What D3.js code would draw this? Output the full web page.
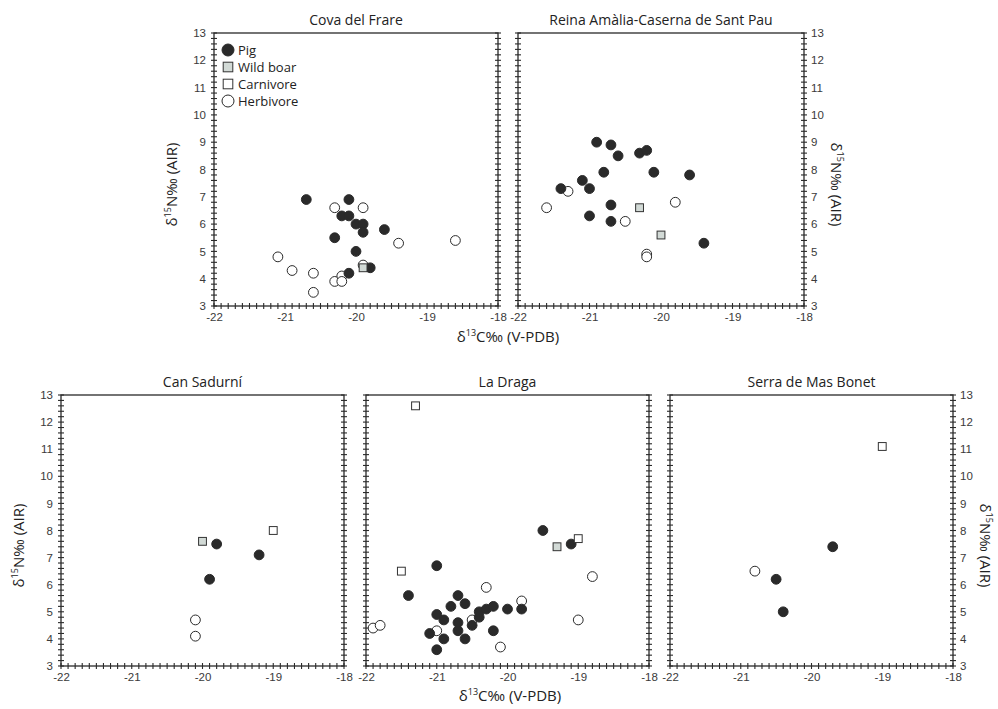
<!DOCTYPE html>
<html>
  <head>
    <meta charset="utf-8">
    <title>d13C / d15N by site</title>
    <script src="https://d3js.org/d3.v7.min.js"></script>
    <style>
      body { margin: 0; background: #fff; }
      svg { display: block; font-family: "Open Sans", sans-serif; }
      .tick text { fill: #3a3a3a; font-size: 11.5px; }
      .title { fill: #222; font-size: 14px; }
      .axlabel { fill: #222; font-size: 15px; }
    </style>
  </head>
  <body>
    <svg width="998" height="709"></svg>
    <script>
      // tick values
      const xTicks = [-22, -21, -20, -19, -18];
      const yTicks = [3, 4, 5, 6, 7, 8, 9, 10, 11, 12, 13];
      const categories = ['Pig', 'Wild boar', 'Carnivore', 'Herbivore'];

      // Cova del Frare  [d13C, d15N]
      const covaPig = [[-20.7,6.9],[-20.1,6.9],[-20.2,6.3],[-20.1,6.3],[-20.0,6.0],[-19.9,6.0],[-19.9,5.7],[-19.6,5.8],[-20.3,5.5],[-20.0,5.0],[-20.1,4.2],[-19.8,4.4]];
      const covaBoar = [[-19.9,4.4]];
      const covaCarn = [];
      const covaHerb = [[-20.3,6.6],[-19.9,6.6],[-19.4,5.3],[-18.6,5.4],[-21.1,4.8],[-20.9,4.3],[-20.6,4.2],[-20.6,3.5],[-20.3,3.9],[-20.2,4.1],[-20.2,3.9],[-19.9,4.5]];

      // Reina Amàlia-Caserna de Sant Pau
      const reinaPig = [[-20.9,9.0],[-20.7,8.9],[-20.6,8.5],[-20.3,8.6],[-20.2,8.7],[-20.8,7.9],[-20.1,7.9],[-19.6,7.8],[-21.1,7.6],[-21.4,7.3],[-21.0,7.3],[-20.7,6.7],[-21.0,6.3],[-20.7,6.1],[-19.4,5.3]];
      const reinaBoar = [[-20.3,6.6],[-20.0,5.6]];
      const reinaCarn = [];
      const reinaHerb = [[-21.6,6.6],[-21.3,7.2],[-20.5,6.1],[-19.8,6.8],[-20.2,4.9],[-20.2,4.8]];

      // Can Sadurní
      const sadurniPig = [[-19.8,7.5],[-19.2,7.1],[-19.9,6.2]];
      const sadurniBoar = [[-20.0,7.6]];
      const sadurniCarn = [[-19.0,8.0]];
      const sadurniHerb = [[-20.1,4.7],[-20.1,4.1]];

      // La Draga
      const dragaPig = [[-19.5,8.0],[-19.1,7.5],[-21.0,6.7],[-21.4,5.6],[-20.7,5.6],[-20.8,5.2],[-20.6,5.3],[-21.0,4.9],[-20.9,4.7],[-20.7,4.6],[-20.7,4.3],[-21.1,4.2],[-20.9,4.0],[-20.6,4.0],[-21.0,3.6],[-20.5,4.5],[-20.4,4.8],[-20.4,5.0],[-20.3,5.1],[-20.2,5.2],[-20.0,5.1],[-19.8,5.1],[-20.2,4.3]];
      const dragaBoar = [[-19.3,7.4]];
      const dragaCarn = [[-21.3,12.6],[-21.5,6.5],[-19.0,7.7]];
      const dragaHerb = [[-20.3,5.9],[-19.8,5.4],[-18.8,6.3],[-19.0,4.7],[-20.1,3.7],[-21.0,4.3],[-20.5,4.7],[-21.9,4.4],[-21.8,4.5]];

      // Serra de Mas Bonet
      const serraPig = [[-19.7,7.4],[-20.5,6.2],[-20.4,5.0]];
      const serraBoar = [];
      const serraCarn = [[-19.0,11.1]];
      const serraHerb = [[-20.8,6.5]];

      const panels = [
        {name: 'Cova del Frare', x0: 214, x1: 498, y0: 33, y1: 306, ylab: 'left', legend: true,
         data: [covaPig, covaBoar, covaCarn, covaHerb]},
        {name: 'Reina Amàlia-Caserna de Sant Pau', x0: 518, x1: 804, y0: 33, y1: 306, ylab: 'right',
         data: [reinaPig, reinaBoar, reinaCarn, reinaHerb]},
        {name: 'Can Sadurní', x0: 61, x1: 344, y0: 395, y1: 666, ylab: 'left',
         data: [sadurniPig, sadurniBoar, sadurniCarn, sadurniHerb]},
        {name: 'La Draga', x0: 366, x1: 649, y0: 395, y1: 666, ylab: null,
         data: [dragaPig, dragaBoar, dragaCarn, dragaHerb]},
        {name: 'Serra de Mas Bonet', x0: 670, x1: 953, y0: 395, y1: 666, ylab: 'right',
         data: [serraPig, serraBoar, serraCarn, serraHerb]}
      ];

      const svg = d3.select('svg');
      const ink = '#2a2a2a';
      const xMinor = d3.range(0, 41).map(i => -22 + i / 10);
      const yMinor = d3.range(0, 51).map(i => 3 + i / 5);
      const fmt = d => String(d);

      // draws one marker of category c at (cx, cy)
      function marker(g, c, cx, cy, r) {
        if (c === 0 || c === 3) {
          g.append('circle').attr('cx', cx).attr('cy', cy).attr('r', r)
            .attr('fill', c === 0 ? ink : '#fff')
            .attr('stroke', ink).attr('stroke-width', 1);
        } else {
          const s = r * 1.6;
          g.append('rect').attr('x', cx - s / 2).attr('y', cy - s / 2)
            .attr('width', s).attr('height', s)
            .attr('fill', c === 1 ? '#d2dad6' : '#fff')
            .attr('stroke', '#333').attr('stroke-width', 1);
        }
      }

      panels.forEach(p => {
        const x = d3.scaleLinear().domain([-22, -18]).range([p.x0, p.x1]);
        const y = d3.scaleLinear().domain([3, 13]).range([p.y1, p.y0]);
        const g = svg.append('g');

        g.append('rect')
          .attr('x', p.x0).attr('y', p.y0)
          .attr('width', p.x1 - p.x0).attr('height', p.y1 - p.y0)
          .attr('fill', 'none').attr('stroke', ink).attr('stroke-width', 1.3);

        // minor ticks crossing the bottom, left and right sides
        const t = 3;
        g.append('g').selectAll('line').data(xMinor).join('line')
          .attr('x1', d => x(d)).attr('x2', d => x(d))
          .attr('y1', p.y1 - t).attr('y2', p.y1 + t)
          .attr('stroke', ink).attr('stroke-width', 1.1);
        [p.x0, p.x1].forEach(xx => {
          g.append('g').selectAll('line').data(yMinor).join('line')
            .attr('y1', d => y(d)).attr('y2', d => y(d))
            .attr('x1', xx - t).attr('x2', xx + t)
            .attr('stroke', ink).attr('stroke-width', 1.1);
        });

        // tick labels
        g.append('g').attr('transform', `translate(0,${p.y1})`)
          .call(d3.axisBottom(x).tickValues(xTicks).tickSize(0).tickPadding(7).tickFormat(fmt))
          .call(a => a.select('.domain').remove());
        if (p.ylab === 'left') {
          g.append('g').attr('transform', `translate(${p.x0},0)`)
            .call(d3.axisLeft(y).tickValues(yTicks).tickSize(0).tickPadding(8).tickFormat(fmt))
            .call(a => a.select('.domain').remove());
        } else if (p.ylab === 'right') {
          g.append('g').attr('transform', `translate(${p.x1},0)`)
            .call(d3.axisRight(y).tickValues(yTicks).tickSize(0).tickPadding(7).tickFormat(fmt))
            .call(a => a.select('.domain').remove());
        }

        g.append('text').attr('class', 'title')
          .attr('x', (p.x0 + p.x1) / 2).attr('y', p.y0 - 8)
          .attr('text-anchor', 'middle').text(p.name);

        // y axis label
        if (p.ylab) {
          const left = p.ylab === 'left';
          const lx = left ? p.x0 - 37 : p.x1 + 27;
          const ly = (p.y0 + p.y1) / 2 + 15;
          const lab = g.append('text').attr('class', 'axlabel')
            .attr('text-anchor', 'middle')
            .attr('transform', `translate(${lx},${ly}) rotate(${left ? -90 : 90})`);
          lab.append('tspan').text('δ');
          lab.append('tspan').attr('font-size', '9px').attr('dy', -6).text('15');
          lab.append('tspan').attr('dy', 6).text('N‰ (AIR)');
        }

        // points: herbivores under pigs, squares on top
        const pts = g.append('g');
        [3, 0, 2, 1].forEach(c => {
          p.data[c].forEach(d => marker(pts, c, x(d[0]), y(d[1]), 4.9));
        });

        if (p.legend) {
          const lg = g.append('g');
          categories.forEach((name, i) => {
            const cy = p.y0 + 17 + i * 17;
            marker(lg, i, p.x0 + 14, cy, 6);
            lg.append('text').attr('x', p.x0 + 24).attr('y', cy + 4.5)
              .attr('font-size', '13px').attr('fill', '#222').text(name);
          });
        }
      });

      // x axis labels
      [[508, 342], [510, 701]].forEach(([lx, ly]) => {
        const lab = svg.append('text').attr('class', 'axlabel')
          .attr('x', lx).attr('y', ly).attr('text-anchor', 'middle');
        lab.append('tspan').text('δ');
        lab.append('tspan').attr('font-size', '9px').attr('dy', -6).text('13');
        lab.append('tspan').attr('dy', 6).text('C‰ (V-PDB)');
      });
    </script>
  </body>
</html>
